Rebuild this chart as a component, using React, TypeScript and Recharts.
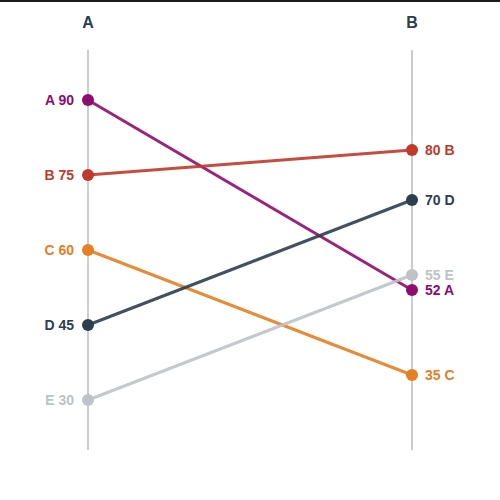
import React from 'react';
import { LineChart, Line, XAxis, YAxis, ReferenceLine, LabelList } from 'recharts';

const periods = ['A', 'B'];
const seriesNames = ['A', 'B', 'C', 'D', 'E'];
const valuesStart = [90, 75, 60, 45, 30];
const valuesEnd = [52, 80, 35, 70, 55];
const colors = ['#8e0b6f', '#c0392b', '#e67e22', '#2c3e50', '#bdc3c7'];

const data = periods.map((p, i) => {
  const row: any = { x: i, period: p };
  seriesNames.forEach((s, k) => {
    row[s] = i === 0 ? valuesStart[k] : valuesEnd[k];
  });
  return row;
});

const FONT = '"Liberation Sans", Arial, sans-serif';

const makeLabel = (name: string, color: string) => (props: any) => {
  const { x, y, value, index } = props;
  const left = index === 0;
  return (
    <text
      x={left ? x - 14 : x + 13}
      y={y + 5}
      textAnchor={left ? 'end' : 'start'}
      fill={color}
      fontFamily={FONT}
      fontWeight="bold"
      fontSize={14}
    >
      {left ? `${name} ${value}` : `${value} ${name}`}
    </text>
  );
};

const headerLabel = (text: string) => (props: any) => {
  const { viewBox } = props;
  return (
    <text
      x={viewBox.x}
      y={28}
      textAnchor="middle"
      fill="#2c3e50"
      fontFamily={FONT}
      fontWeight="bold"
      fontSize={16}
    >
      {text}
    </text>
  );
};

export default function App() {
  return (
    <div style={{ position: 'absolute', top: 0, left: 0, width: 500, height: 500, background: '#fff' }}>
      <div style={{ position: 'absolute', top: 0, left: 0, width: 500, height: 2, background: '#1a1a1a' }} />
      <LineChart width={500} height={500} data={data} margin={{ top: 50, right: 88, bottom: 50, left: 88 }}>
        <XAxis dataKey="x" type="number" domain={[0, 1]} hide />
        <YAxis type="number" domain={[20, 100]} hide />
        {periods.map((p, i) => (
          <ReferenceLine key={p} x={i} stroke="#cccccc" strokeWidth={2} label={headerLabel(p)} />
        ))}
        {seriesNames.map((s, k) => (
          <Line
            key={s}
            dataKey={s}
            stroke={colors[k]}
            strokeOpacity={0.9}
            strokeWidth={3}
            dot={{ r: 6, fill: colors[k], stroke: 'none', fillOpacity: 1 }}
            activeDot={false}
            isAnimationActive={false}
          >
            <LabelList dataKey={s} content={makeLabel(s, colors[k])} />
          </Line>
        ))}
      </LineChart>
    </div>
  );
}
